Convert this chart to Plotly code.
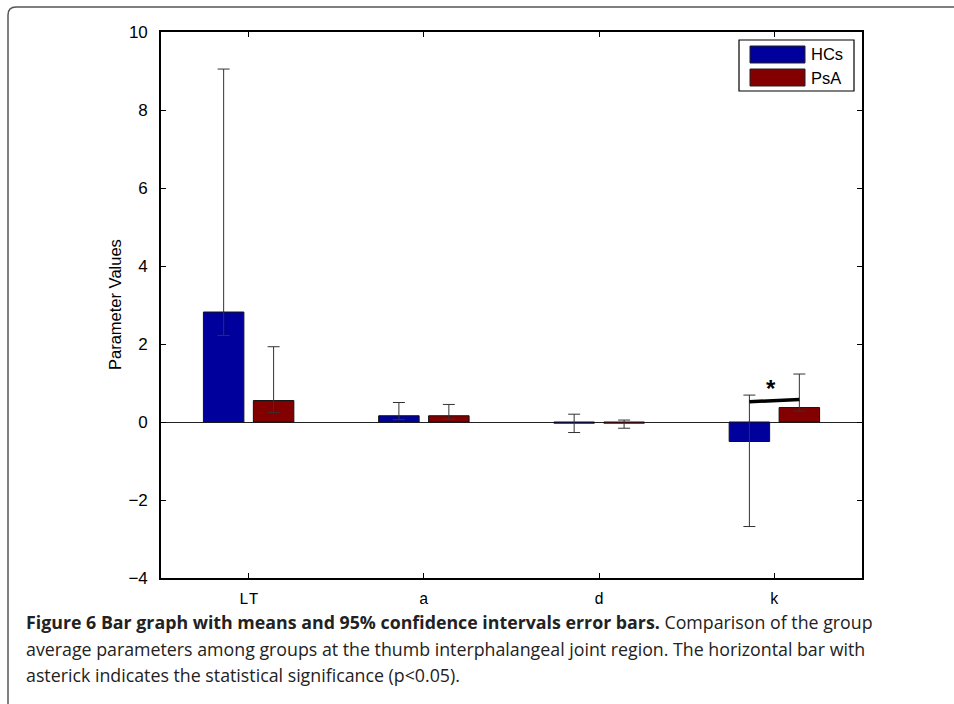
import plotly.graph_objects as go

# ---------------- data ----------------
categories = ["LT", "a", "d", "k"]
series_names = ["HCs", "PsA"]
hcs_mean = [2.82, 0.16, -0.03, -0.50]
hcs_upper = [9.05, 0.50, 0.20, 0.69]
hcs_lower = [2.22, 0.06, -0.27, -2.68]
psa_mean = [0.55, 0.16, -0.03, 0.37]
psa_upper = [1.93, 0.45, 0.05, 1.23]
psa_lower = [0.24, 0.07, -0.16, 0.28]
y_ticks = [-4, -2, 0, 2, 4, 6, 8, 10]
sig_category = "k"
sig_y_start = 0.52
sig_y_end = 0.58
sig_star_y = 0.87
caption_lines = [
    "<b>Figure 6 Bar graph with means and 95% confidence intervals error bars.</b> Comparison of the group",
    "average parameters among groups at the thumb interphalangeal joint region. The horizontal bar with",
    "asterick indicates the statistical significance (p<0.05).",
]

# ---------------- layout constants ----------------
W, H = 954, 704
L, R, T, B = 161, 862, 32, 578
BLUE = "#00009C"
RED = "#820000"
BARGAP = 0.43
GROUPGAP = 0.19
slot = (1 - BARGAP) / 2.0


def px(x):
    return (x - L) / (R - L)


def py(y):
    return (B - y) / (B - T)


def err(mean, upper, lower):
    return dict(type="data", symmetric=False,
                array=[u - m for u, m in zip(upper, mean)],
                arrayminus=[m - l for m, l in zip(mean, lower)],
                color="#333333", thickness=1, width=6)


fig = go.Figure()
fig.add_trace(go.Bar(x=categories, y=hcs_mean, name=series_names[0],
                     marker=dict(color=BLUE, line=dict(color="#111111", width=1)),
                     error_y=err(hcs_mean, hcs_upper, hcs_lower)))
fig.add_trace(go.Bar(x=categories, y=psa_mean, name=series_names[1],
                     marker=dict(color=RED, line=dict(color="#111111", width=1)),
                     error_y=err(psa_mean, psa_upper, psa_lower)))

shapes = []
annotations = []

# significance bar between the two bars of the chosen category
ci = categories.index(sig_category)
shapes.append(dict(type="line", xref="x", yref="y",
                   x0=ci - slot / 2, x1=ci + slot / 2,
                   y0=sig_y_start, y1=sig_y_end,
                   line=dict(color="black", width=3.5)))
annotations.append(dict(xref="x", yref="y", x=ci - 0.02, y=sig_star_y, text="<b>*</b>",
                        showarrow=False, font=dict(size=24, color="black",
                                                   family="Liberation Sans")))

# outer figure frame (rounded top-left corner)
fx0, fy0, rad = 8, 7, 8
path = (f"M {px(fx0)},{py(H + 5)} L {px(fx0)},{py(fy0 + rad)} "
        f"Q {px(fx0)},{py(fy0)} {px(fx0 + rad)},{py(fy0)} L {px(W + 5)},{py(fy0)}")
shapes.append(dict(type="path", xref="paper", yref="paper", path=path,
                   line=dict(color="#555555", width=1.5)))

# custom legend
shapes.append(dict(type="rect", xref="paper", yref="paper",
                   x0=px(739), x1=px(854), y0=py(40), y1=py(91),
                   line=dict(color="black", width=1.2), fillcolor="white"))
for i, (nm, col) in enumerate(zip(series_names, [BLUE, RED])):
    top = 46 + i * 23
    shapes.append(dict(type="rect", xref="paper", yref="paper",
                       x0=px(750), x1=px(805), y0=py(top), y1=py(top + 17),
                       line=dict(color="#222222", width=1), fillcolor=col))
    annotations.append(dict(xref="paper", yref="paper", x=px(809), y=py(top + 8.5),
                            xanchor="left", yanchor="middle", text=nm, showarrow=False,
                            font=dict(size=16.5, color="black", family="Liberation Sans")))

# y axis label
annotations.append(dict(xref="paper", yref="paper", x=px(115), y=0.5, text="Parameter Values",
                        textangle=-90, showarrow=False, xanchor="center", yanchor="middle",
                        font=dict(size=16.5, color="black", family="Liberation Sans")))

# caption
for i, line in enumerate(caption_lines):
    annotations.append(dict(xref="paper", yref="paper", x=px(24), y=py(622 + i * 26.5),
                            xanchor="left", yanchor="middle", text=line, showarrow=False,
                            align="left",
                            font=dict(size=17.8, color="#222222", family="Open Sans")))

fig.update_layout(
    width=W, height=H,
    margin=dict(l=L, r=W - R, t=T, b=H - B, autoexpand=False),
    paper_bgcolor="white", plot_bgcolor="white",
    barmode="group", bargap=BARGAP, bargroupgap=GROUPGAP,
    showlegend=False,
    shapes=shapes, annotations=annotations,
    font=dict(family="Liberation Sans", color="black"),
)
fig.update_xaxes(range=[-0.5, len(categories) - 0.5], showline=True, linecolor="black",
                 linewidth=1.6, mirror="ticks", ticks="inside", ticklen=5, tickcolor="black",
                 showgrid=False, zeroline=False,
                 tickfont=dict(size=16, family="Liberation Mono", color="black"),
                 ticklabelstandoff=5)
fig.update_yaxes(range=[-4, 10], tickvals=y_ticks, showline=True, linecolor="black",
                 linewidth=1.6, mirror="ticks", ticks="inside", ticklen=5, tickcolor="black",
                 showgrid=False, zeroline=True, zerolinecolor="#222222", zerolinewidth=1,
                 tickfont=dict(size=17, family="Liberation Sans", color="black"),
                 ticklabelstandoff=8)

fig.write_html("out.html", config={"displayModeBar": False},
               post_script="document.body.style.margin='0';document.body.style.overflow='hidden';")
